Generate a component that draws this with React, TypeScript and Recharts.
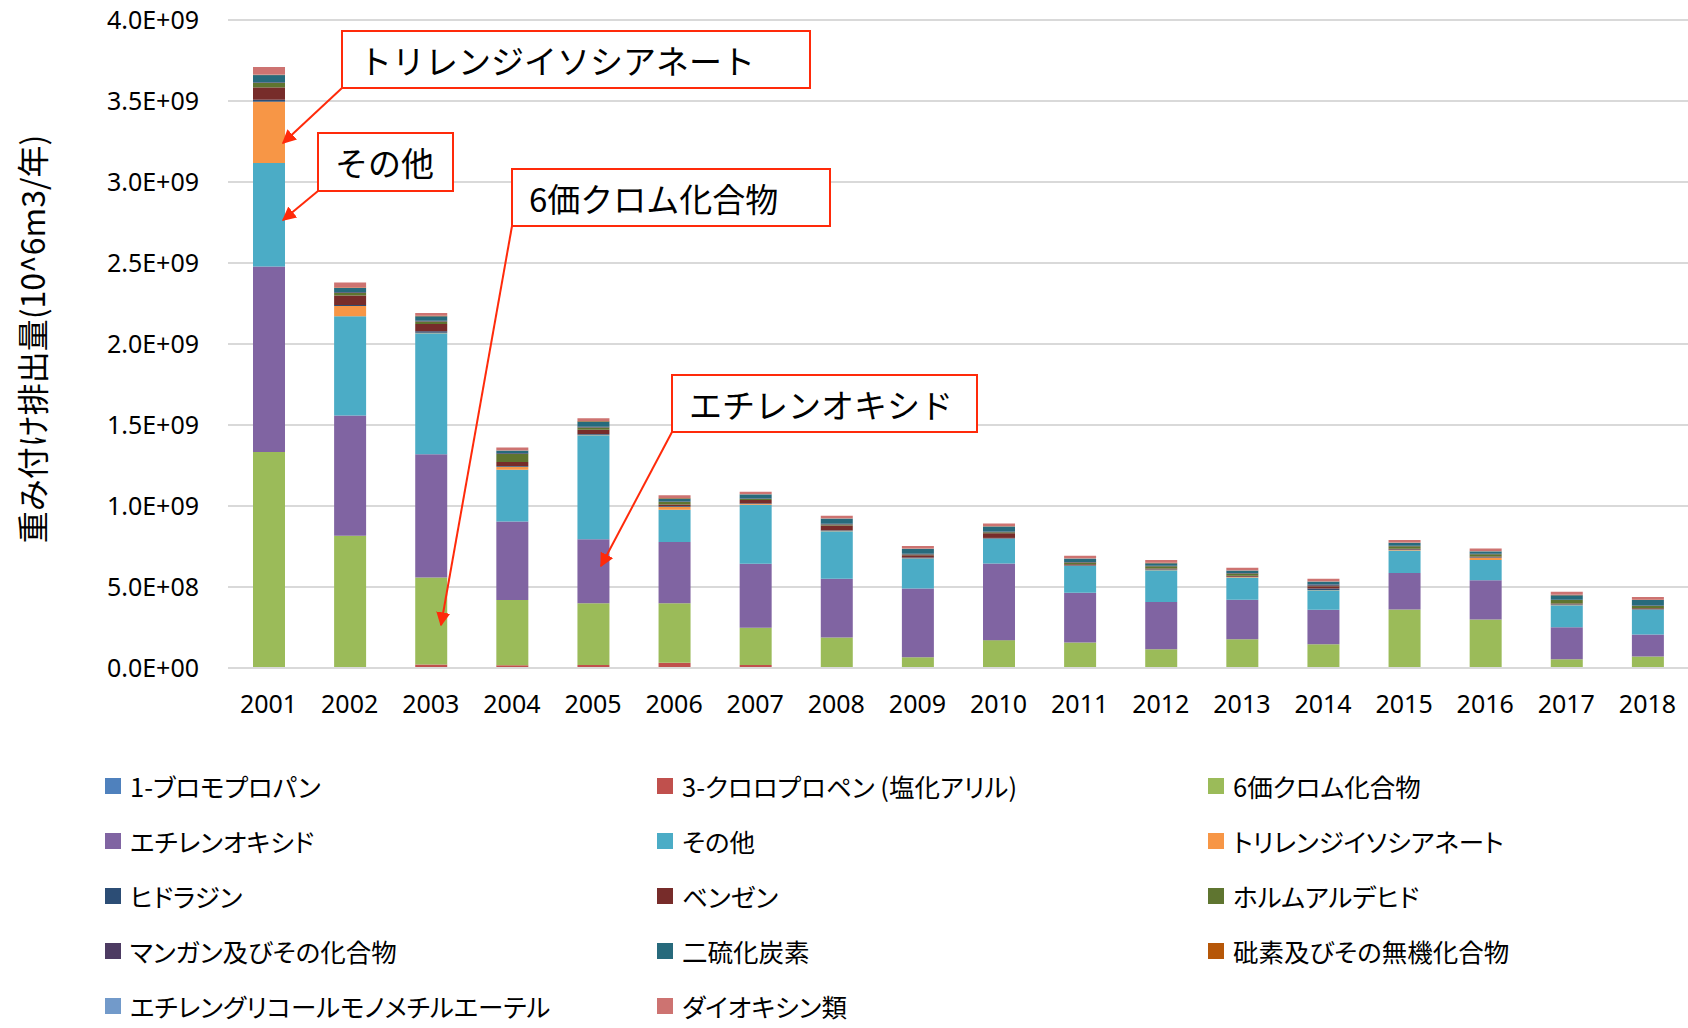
import React from 'react';
import { BarChart, Bar, XAxis, YAxis, CartesianGrid } from 'recharts';

const years = ['2001', '2002', '2003', '2004', '2005', '2006', '2007', '2008', '2009', '2010', '2011', '2012', '2013', '2014', '2015', '2016', '2017', '2018'];

// values in units of 1E+09
const bromopropane = [0.002, 0.002, 0.002, 0.002, 0.002, 0.002, 0.002, 0.001, 0.001, 0.001, 0.001, 0.001, 0.001, 0.001, 0.001, 0.001, 0.001, 0.001];
const chloropropene = [0, 0, 0.02, 0.015, 0.016, 0.031, 0.016, 0.003, 0.002, 0.002, 0.002, 0.002, 0.002, 0.002, 0.002, 0.002, 0.002, 0.002];
const chromium6 = [1.331, 0.815, 0.536, 0.403, 0.381, 0.366, 0.231, 0.185, 0.064, 0.169, 0.154, 0.113, 0.175, 0.144, 0.358, 0.296, 0.051, 0.068];
const ethyleneOxide = [1.146, 0.742, 0.761, 0.485, 0.395, 0.379, 0.395, 0.362, 0.424, 0.473, 0.307, 0.292, 0.243, 0.212, 0.226, 0.243, 0.198, 0.136];
const others = [0.638, 0.612, 0.747, 0.319, 0.642, 0.199, 0.364, 0.293, 0.185, 0.152, 0.165, 0.196, 0.138, 0.121, 0.138, 0.124, 0.136, 0.152];
const tdi = [0.379, 0.064, 0.004, 0.019, 0.004, 0.019, 0.004, 0.003, 0.002, 0.002, 0.002, 0.002, 0.002, 0.002, 0.003, 0.014, 0.002, 0.002];
const hydrazine = [0.012, 0.005, 0.008, 0.004, 0.004, 0.004, 0.004, 0.004, 0.004, 0.004, 0.003, 0.003, 0.003, 0.008, 0.003, 0.003, 0.003, 0.003];
const benzene = [0.076, 0.059, 0.045, 0.024, 0.027, 0.01, 0.021, 0.029, 0.014, 0.029, 0.006, 0.005, 0.005, 0.014, 0.005, 0.005, 0.005, 0.005];
const formaldehyde = [0.027, 0.016, 0.016, 0.05, 0.014, 0.014, 0.006, 0.006, 0.005, 0.006, 0.012, 0.014, 0.014, 0.004, 0.016, 0.014, 0.021, 0.014];
const manganese = [0.004, 0.004, 0.004, 0.004, 0.004, 0.004, 0.004, 0.004, 0.004, 0.004, 0.003, 0.003, 0.003, 0.008, 0.003, 0.003, 0.003, 0.003];
const carbonDisulfide = [0.045, 0.027, 0.029, 0.016, 0.033, 0.019, 0.024, 0.031, 0.029, 0.031, 0.019, 0.016, 0.014, 0.016, 0.016, 0.014, 0.027, 0.033];
const arsenic = [0.002, 0.002, 0.002, 0.002, 0.002, 0.002, 0.002, 0.002, 0.002, 0.002, 0.002, 0.002, 0.002, 0.002, 0.002, 0.002, 0.002, 0.002];
const egme = [0.001, 0.001, 0.001, 0.001, 0.001, 0.001, 0.001, 0.001, 0.001, 0.001, 0.001, 0.001, 0.001, 0.001, 0.001, 0.001, 0.001, 0.001];
const dioxins = [0.047, 0.031, 0.016, 0.017, 0.017, 0.016, 0.014, 0.016, 0.016, 0.016, 0.016, 0.016, 0.016, 0.016, 0.016, 0.016, 0.019, 0.016];

const yTicks = [0, 0.5e9, 1e9, 1.5e9, 2e9, 2.5e9, 3e9, 3.5e9, 4e9];

const series = [
  { key: 's1', name: '1-ブロモプロパン', color: '#4F81BD', values: bromopropane },
  { key: 's2', name: '3-クロロプロペン (塩化アリル)', color: '#C0504D', values: chloropropene },
  { key: 's3', name: '6価クロム化合物', color: '#9BBB59', values: chromium6 },
  { key: 's4', name: 'エチレンオキシド', color: '#8064A2', values: ethyleneOxide },
  { key: 's5', name: 'その他', color: '#4BACC6', values: others },
  { key: 's6', name: 'トリレンジイソシアネート', color: '#F79646', values: tdi },
  { key: 's7', name: 'ヒドラジン', color: '#2C4D75', values: hydrazine },
  { key: 's8', name: 'ベンゼン', color: '#772C2A', values: benzene },
  { key: 's9', name: 'ホルムアルデヒド', color: '#5F7530', values: formaldehyde },
  { key: 's10', name: 'マンガン及びその化合物', color: '#4D3B62', values: manganese },
  { key: 's11', name: '二硫化炭素', color: '#276A7C', values: carbonDisulfide },
  { key: 's12', name: '砒素及びその無機化合物', color: '#B65708', values: arsenic },
  { key: 's13', name: 'エチレングリコールモノメチルエーテル', color: '#729ACA', values: egme },
  { key: 's14', name: 'ダイオキシン類', color: '#CD7371', values: dioxins },
];

const data = years.map((year, i) => {
  const row: Record<string, any> = { year };
  series.forEach((s) => { row[s.key] = s.values[i] * 1e9; });
  return row;
});

const fmtSci = (v: number) => {
  const [m, e] = v.toExponential(1).split('e');
  return `${m}E${e[0]}${e.slice(1).padStart(2, '0')}`;
};

const FONT = '"Noto Sans", "Noto Sans CJK JP", sans-serif';
const JP = '"Noto Sans CJK JP", "Noto Sans", sans-serif';
const RED = '#FF2A0A';

const callouts = [
  { text: 'トリレンジイソシアネート', x: 342, y: 31, w: 468, h: 57, tip: [283, 143] },
  { text: 'その他', x: 318, y: 133, w: 135, h: 58, tip: [283, 220] },
  { text: '6価クロム化合物', x: 512, y: 169, w: 318, h: 57, tip: [441, 625] },
  { text: 'エチレンオキシド', x: 672, y: 375, w: 305, h: 57, tip: [601, 566] },
];

const legendCols = [105, 657, 1208];
const legendRows = [786, 841, 896, 951, 1006];

export default function App() {
  return (
    <div style={{ position: 'absolute', left: 0, top: 0, width: 1688, height: 1028, background: '#fff', fontFamily: FONT, overflow: 'hidden' }}>
      <BarChart width={1688} height={720} data={data} margin={{ top: 20, right: 0, left: 0, bottom: 0 }} barSize={32}>
        <CartesianGrid vertical={false} stroke="#D9D9D9" strokeWidth={2} />
        <XAxis
          dataKey="year"
          height={52}
          tickLine={false}
          axisLine={{ stroke: '#D9D9D9', strokeWidth: 2 }}
          tickSize={0}
          tickMargin={27}
          tick={{ fill: '#000', fontSize: 25, fontFamily: FONT }}
          interval={0}
        />
        <YAxis
          width={228}
          domain={[0, 4e9]}
          ticks={yTicks}
          tickFormatter={fmtSci}
          tickLine={false}
          axisLine={false}
          tickSize={0}
          tickMargin={29}
          tick={{ fill: '#000', fontSize: 25, fontFamily: FONT }}
          label={{
            content: () => (
              <text
                x={31}
                y={339}
                transform="rotate(-90, 31, 339)"
                textAnchor="middle"
                dominantBaseline="central"
                fontSize={32}
                fontFamily={JP}
                fill="#000"
              >
                重み付け排出量(10^6m3/年)
              </text>
            ),
          }}
        />
        {series.map((s) => (
          <Bar key={s.key} dataKey={s.key} name={s.name} stackId="a" fill={s.color} isAnimationActive={false} />
        ))}
      </BarChart>

      <svg width={1688} height={720} style={{ position: 'absolute', left: 0, top: 0, pointerEvents: 'none' }}>
        <defs>
          <marker id="arrowHead" viewBox="0 0 10 10" refX="9" refY="5" markerWidth="7" markerHeight="7" markerUnits="strokeWidth" orient="auto">
            <path d="M0,0 L10,5 L0,10 z" fill={RED} />
          </marker>
        </defs>
        {callouts.map((c) => (
          <g key={c.text}>
            <line x1={c.x} y1={c.y + c.h} x2={c.tip[0]} y2={c.tip[1]} stroke={RED} strokeWidth={2} markerEnd="url(#arrowHead)" />
            <rect x={c.x} y={c.y} width={c.w} height={c.h} fill="#fff" stroke={RED} strokeWidth={2} />
            <text x={c.x + 17} y={c.y + c.h / 2} dominantBaseline="central" fontSize={33} fontFamily={JP} fill="#000">
              {c.text}
            </text>
          </g>
        ))}
      </svg>

      {series.map((s, i) => {
        const col = i % 3;
        const row = Math.floor(i / 3);
        return (
          <div
            key={s.key}
            style={{
              position: 'absolute',
              left: legendCols[col],
              top: legendRows[row] - 14,
              height: 28,
              lineHeight: '28px',
              display: 'flex',
              alignItems: 'center',
              whiteSpace: 'nowrap',
            }}
          >
            <span style={{ width: 16, height: 16, background: s.color, marginRight: 9, display: 'inline-block' }} />
            <span
              style={{
                fontFamily: JP,
                fontSize: 25.5,
                lineHeight: '28px',
                color: '#000',
                fontFeatureSettings: '"palt" 1',
                display: 'inline-block',
              }}
            >
              {s.name}
            </span>
          </div>
        );
      })}
    </div>
  );
}
